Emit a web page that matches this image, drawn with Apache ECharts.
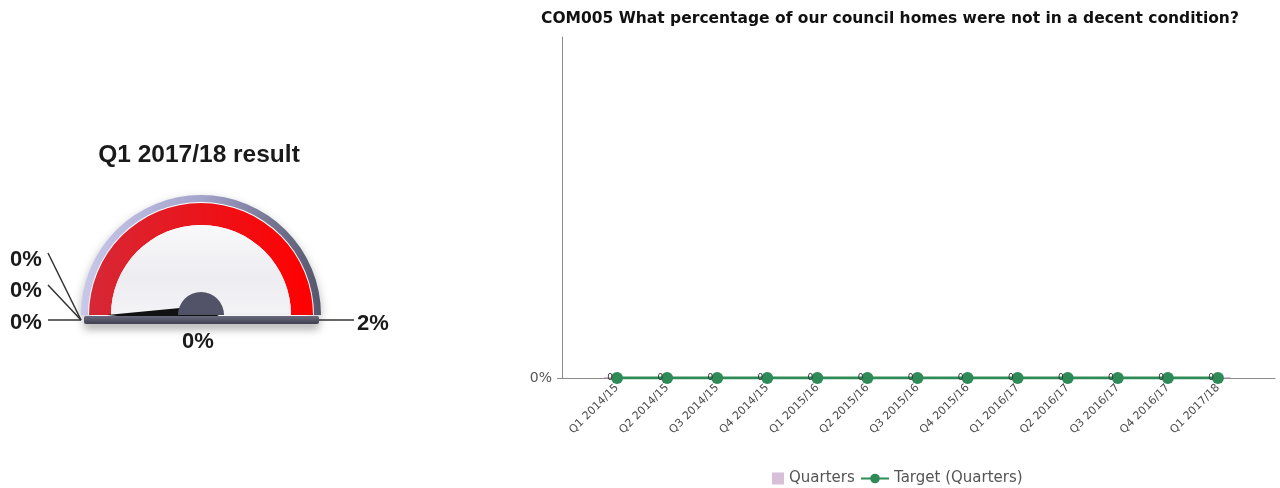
<!DOCTYPE html>
<html>
<head>
<meta charset="utf-8">
<title>COM005 decent homes</title>
<script src="https://cdn.jsdelivr.net/npm/echarts@6/dist/echarts.min.js"></script>
<style>
  html, body { margin: 0; padding: 0; background: #ffffff; }
  #chart { width: 1280px; height: 488px; }
</style>
</head>
<body>
<div id="chart"></div>
<script>
// Quarter labels along the bottom axis
const quarters = [
  'Q1 2014/15', 'Q2 2014/15', 'Q3 2014/15', 'Q4 2014/15',
  'Q1 2015/16', 'Q2 2015/16', 'Q3 2015/16', 'Q4 2015/16',
  'Q1 2016/17', 'Q2 2016/17', 'Q3 2016/17', 'Q4 2016/17',
  'Q1 2017/18'
];
// Percentage of council homes not in a decent condition, per quarter
const quarterValues = [0, 0, 0, 0, 0, 0, 0, 0, 0, 0, 0, 0, 0];
// Target per quarter
const targetValues = [0, 0, 0, 0, 0, 0, 0, 0, 0, 0, 0, 0, 0];

// Dial: latest result, scale and the three marker values on the left
const dialTitle = 'Q1 2017/18 result';
const dialValue = 0;
const dialMin = 0;
const dialMax = 2;
const dialMarkers = [0, 0, 0];

const pct = v => v + '%';

const chart = echarts.init(document.getElementById('chart'), null, { renderer: 'canvas' });

const CX = 201, CY = 315;
const dialFont = 'Arial, "Liberation Sans", sans-serif';
const chartFont = '"DejaVu Sans", Verdana, sans-serif';

// a gauge used purely as a drawn ring / disc of the dial body
function ring(radius, width, color, z, lineExtra) {
  return {
    type: 'gauge', center: [CX, CY], radius: radius,
    startAngle: 180, endAngle: 0, min: 0, max: 1,
    silent: true, z: z,
    axisLine: { lineStyle: Object.assign({ width: width, color: [[1, color]] }, lineExtra || {}) },
    axisTick: { show: false }, splitLine: { show: false }, axisLabel: { show: false },
    pointer: { show: false }, anchor: { show: false }, title: { show: false }, detail: { show: false },
    data: []
  };
}

const lin = (x0, y0, x1, y1, stops) => new echarts.graphic.LinearGradient(x0, y0, x1, y1, stops);

// leader lines and labels of the dial markers
const markerY = [260, 291, 323];
const markerLineStart = [[48, 253], [48, 285], [48, 320]];
const graphics = [];
dialMarkers.forEach((m, i) => {
  graphics.push({
    type: 'line', silent: true, z: 1,
    shape: { x1: markerLineStart[i][0], y1: markerLineStart[i][1], x2: 81, y2: 320 },
    style: { stroke: '#333', lineWidth: 1.5 }
  });
  graphics.push({
    type: 'text', silent: true, z: 5, x: 26, y: markerY[i],
    style: { text: pct(m), font: 'bold 22px ' + dialFont, fill: '#1a1a1a', align: 'center', verticalAlign: 'middle' }
  });
});
graphics.push({
  type: 'line', silent: true, z: 1,
  shape: { x1: 318, y1: 320, x2: 354, y2: 320 },
  style: { stroke: '#333', lineWidth: 1.5 }
});
graphics.push({
  type: 'text', silent: true, z: 5, x: 373, y: 324,
  style: { text: pct(dialMax), font: 'bold 22px ' + dialFont, fill: '#1a1a1a', align: 'center', verticalAlign: 'middle' }
});
graphics.push({
  type: 'text', silent: true, z: 5, x: 199, y: 155,
  style: { text: dialTitle, font: 'bold 24.5px ' + dialFont, fill: '#1a1a1a', align: 'center', verticalAlign: 'middle' }
});
// base plate under the dial
graphics.push({
  type: 'rect', silent: true, z: 20,
  shape: { x: 84, y: 316, width: 235, height: 8, r: 2 },
  style: {
    fill: lin(0, 0, 0, 1, [{ offset: 0, color: '#6a6a80' }, { offset: 1, color: '#40404f' }]),
    shadowBlur: 8, shadowColor: 'rgba(0,0,0,0.35)', shadowOffsetY: 5
  }
});

const option = {
  backgroundColor: '#ffffff',
  animation: false,
  textStyle: { fontFamily: chartFont },
  title: {
    text: 'COM005 What percentage of our council homes were not in a decent condition?',
    left: 536, top: 6,
    textStyle: { fontFamily: chartFont, fontWeight: 'bold', fontSize: 15.5, color: '#111' }
  },
  legend: [
    {
      left: 767, top: 466, itemWidth: 12, itemHeight: 12,
      textStyle: { fontFamily: chartFont, fontSize: 15, color: '#555' },
      data: [{ name: 'Quarters', icon: 'rect', itemStyle: { color: '#d8bfd8' } }]
    },
    {
      left: 855, top: 466, itemWidth: 28, itemHeight: 12,
      textStyle: { fontFamily: chartFont, fontSize: 15, color: '#555' },
      data: [{ name: 'Target (Quarters)' }]
    }
  ],
  grid: [
    { left: 562, right: 5, top: 37, bottom: 110 },
    { left: 592, right: 37, top: 37, bottom: 110 }
  ],
  xAxis: [
    {
      type: 'value', gridIndex: 0, min: 0, max: 1,
      axisLine: { show: true, lineStyle: { color: '#8c8c8c', width: 1 } },
      axisTick: { show: false }, axisLabel: { show: false }, splitLine: { show: false }
    },
    {
      type: 'category', gridIndex: 1, data: quarters, boundaryGap: true,
      axisLine: { show: false },
      axisTick: { show: true, alignWithLabel: true, length: 4, lineStyle: { color: '#8c8c8c' } },
      axisLabel: { rotate: 45, fontSize: 11, color: '#4a4a4a', margin: 8, interval: 0, fontFamily: chartFont },
      splitLine: { show: false }
    }
  ],
  yAxis: [
    {
      type: 'value', gridIndex: 0, min: 0, max: 1,
      axisLine: { show: true, lineStyle: { color: '#8c8c8c', width: 1 } },
      axisTick: { show: true, length: 5, customValues: [0], lineStyle: { color: '#8c8c8c' } },
      axisLabel: { customValues: [0], formatter: v => pct(v), fontSize: 14, color: '#555', margin: 10, fontFamily: chartFont },
      splitLine: { show: false }
    },
    { type: 'value', gridIndex: 1, min: 0, max: 1, show: false }
  ],
  series: [
    // dial body
    ring(120, 8, lin(0, 0, 1, 0, [{ offset: 0, color: '#c8c8ea' }, { offset: 0.5, color: '#a4a4cc' }, { offset: 1, color: '#55556c' }]), 2,
      { shadowBlur: 10, shadowColor: 'rgba(0,0,0,0.3)', shadowOffsetY: 4 }),
    ring(113, 2, '#ffffff', 3),
    ring(112, 22, lin(0, 0, 1, 0, [{ offset: 0, color: '#d62836' }, { offset: 1, color: '#ff0000' }]), 4),
    ring(90, 90, lin(0, 0, 0, 1, [{ offset: 0, color: '#f9f9fb' }, { offset: 0.6, color: '#ececf1' }, { offset: 1, color: '#f4f4f7' }]), 5),
    // latest result
    {
      type: 'gauge', name: 'Result', center: [CX, CY], radius: 112,
      startAngle: 180, endAngle: 0, min: dialMin, max: dialMax, z: 6,
      axisLine: { show: false },
      axisTick: { show: false }, splitLine: { show: false }, axisLabel: { show: false },
      pointer: { show: true, length: '84%', width: 9, offsetCenter: [0, 0], itemStyle: { color: '#111' } },
      anchor: { show: false },
      title: { show: false },
      detail: {
        show: true, offsetCenter: [-3, 27], formatter: v => pct(v),
        fontFamily: dialFont, fontWeight: 'bold', fontSize: 22, color: '#1a1a1a'
      },
      data: [{ value: dialValue }]
    },
    // hub
    ring(23, 23, '#525268', 8),
    {
      name: 'Quarters', type: 'bar', xAxisIndex: 1, yAxisIndex: 1,
      data: quarterValues, barWidth: 26, barMinHeight: 1,
      itemStyle: { color: '#d8bfd8' }, z: 2
    },
    {
      name: 'Target (Quarters)', type: 'line', xAxisIndex: 1, yAxisIndex: 1,
      data: targetValues, symbol: 'circle', symbolSize: 12,
      lineStyle: { color: '#2e8b57', width: 3 },
      itemStyle: { color: '#2e8b57' },
      label: { show: true, position: 'left', distance: -2, fontSize: 9, color: '#333' },
      z: 3
    }
  ],
  graphic: graphics
};

chart.setOption(option);
</script>
</body>
</html>
